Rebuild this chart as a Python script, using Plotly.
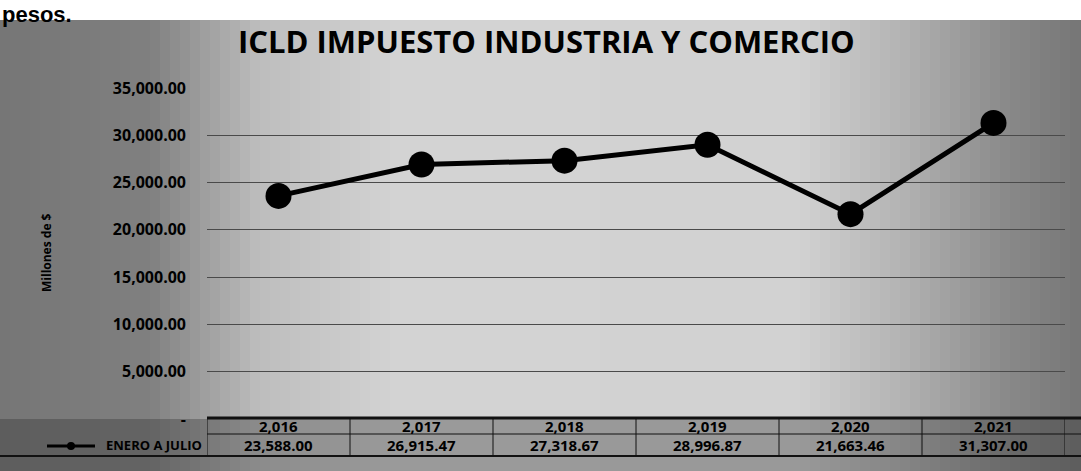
import plotly.graph_objects as go

# ---- data ----
years = ["2,016", "2,017", "2,018", "2,019", "2,020", "2,021"]
values = [23588.00, 26915.47, 27318.67, 28996.87, 21663.46, 31307.00]
value_labels = ["23,588.00", "26,915.47", "27,318.67", "28,996.87", "21,663.46", "31,307.00"]
tick_vals = [0, 5000, 10000, 15000, 20000, 25000, 30000, 35000]
tick_text = ["-", "5,000.00", "10,000.00", "15,000.00", "20,000.00", "25,000.00", "30,000.00", "35,000.00"]
series_name = "ENERO A JULIO"
title_text = "ICLD IMPUESTO INDUSTRIA Y COMERCIO"
y_title = "Millones de $"

W, H = 1081, 471
L, R, T, B = 207, 16, 88, 52
PW = W - L - R
PH = H - T - B


def px_to_xp(x):
    return (x - L) / PW


def px_to_yp(y):
    return (H - B - y) / PH


xs = list(range(len(years)))

fig = go.Figure()
fig.add_trace(go.Scatter(
    x=xs, y=values, mode="lines+markers",
    line=dict(color="black", width=5),
    marker=dict(color="black", size=26),
    name=series_name, showlegend=False,
))

shapes = []
# background grey "scan" profile as vertical strips
profile = [(0, 118), (150, 128), (260, 190), (400, 212), (800, 210), (900, 180), (1000, 140), (1081, 118)]


def grey_at(x):
    for (x0, g0), (x1, g1) in zip(profile[:-1], profile[1:]):
        if x0 <= x <= x1:
            return g0 + (g1 - g0) * (x - x0) / (x1 - x0)
    return profile[-1][1]


step = 10
for x0 in range(0, W, step):
    g = int(grey_at(x0 + step / 2))
    shapes.append(dict(type="rect", xref="paper", yref="paper",
                       x0=px_to_xp(x0), x1=px_to_xp(min(x0 + step, W)),
                       y0=px_to_yp(H), y1=px_to_yp(20),
                       fillcolor=f"rgb({g},{g},{g})", line=dict(width=0), layer="below"))
# darker band behind the table
shapes.append(dict(type="rect", xref="paper", yref="paper",
                   x0=px_to_xp(0), x1=px_to_xp(W), y0=px_to_yp(H), y1=px_to_yp(419),
                   fillcolor="rgba(50,50,50,0.35)", line=dict(width=0), layer="below"))
# white document area above the chart
shapes.append(dict(type="rect", xref="paper", yref="paper", x0=px_to_xp(0), x1=px_to_xp(W),
                   y0=px_to_yp(20), y1=px_to_yp(0), fillcolor="white", line=dict(width=0), layer="below"))

# table lines
line_col = "#111111"
shapes.append(dict(type="line", xref="paper", yref="paper", x0=px_to_xp(207), x1=px_to_xp(W),
                   y0=px_to_yp(418), y1=px_to_yp(418), line=dict(color=line_col, width=3)))
shapes.append(dict(type="line", xref="paper", yref="paper", x0=px_to_xp(207), x1=px_to_xp(W),
                   y0=px_to_yp(434), y1=px_to_yp(434), line=dict(color=line_col, width=1)))
shapes.append(dict(type="line", xref="paper", yref="paper", x0=px_to_xp(0), x1=px_to_xp(W),
                   y0=px_to_yp(456), y1=px_to_yp(456), line=dict(color=line_col, width=2)))
for i in range(len(years) + 1):
    shapes.append(dict(type="line", xref="x", yref="paper", x0=i - 0.5, x1=i - 0.5,
                       y0=px_to_yp(456), y1=px_to_yp(418), line=dict(color=line_col, width=1)))

annotations = []
for i, (yr, vl) in enumerate(zip(years, value_labels)):
    annotations.append(dict(x=i, y=px_to_yp(426), xref="x", yref="paper", text=f"<b>{yr}</b>",
                            xanchor="center", yanchor="middle",
                            showarrow=False, font=dict(size=15, color="black", family="Open Sans")))
    annotations.append(dict(x=i, y=px_to_yp(445), xref="x", yref="paper", text=f"<b>{vl}</b>",
                            xanchor="center", yanchor="middle",
                            showarrow=False, font=dict(size=15, color="black", family="Open Sans")))

# legend key in table
annotations.append(dict(x=px_to_xp(204), y=px_to_yp(445), xref="paper", yref="paper",
                        text=f"<b>{series_name}</b>", xanchor="right", yanchor="middle", showarrow=False,
                        font=dict(size=13, color="black", family="Open Sans")))
shapes.append(dict(type="line", xref="paper", yref="paper", x0=px_to_xp(47), x1=px_to_xp(95),
                   y0=px_to_yp(446), y1=px_to_yp(446), line=dict(color="black", width=3)))
shapes.append(dict(type="circle", xref="paper", yref="paper", x0=px_to_xp(67), x1=px_to_xp(75),
                   y0=px_to_yp(450), y1=px_to_yp(442), fillcolor="black", line=dict(width=0)))

# y axis title
annotations.append(dict(x=px_to_xp(46), y=px_to_yp(253), xref="paper", yref="paper",
                        text=f"<b>{y_title}</b>", textangle=-90, showarrow=False,
                        xanchor="center", yanchor="middle",
                        font=dict(size=12, color="black", family="Open Sans")))
# title
annotations.append(dict(x=px_to_xp(546), y=px_to_yp(41), xref="paper", yref="paper",
                        text=f"<b>{title_text}</b>", showarrow=False,
                        xanchor="center", yanchor="middle",
                        font=dict(size=31, color="black", family="Open Sans")))
# document text above chart
annotations.append(dict(x=px_to_xp(0), y=px_to_yp(0), xref="paper", yref="paper",
                        text="<b>pesos.</b>", showarrow=False, xanchor="left", yanchor="top",
                        font=dict(size=22, color="black", family="Liberation Sans")))

fig.update_layout(
    width=W, height=H,
    margin=dict(l=L, r=R, t=T, b=B),
    paper_bgcolor="white",
    plot_bgcolor="rgba(0,0,0,0)",
    shapes=shapes,
    annotations=annotations,
    xaxis=dict(range=[-0.5, len(years) - 0.5], showticklabels=False, showgrid=False,
               zeroline=False, showline=False, fixedrange=True),
    yaxis=dict(range=[0, 35000], tickvals=tick_vals, ticktext=[f"<b>{t}</b>" for t in tick_text],
               showgrid=True, gridcolor="#4a4a4a", gridwidth=1, zeroline=False,
               tickfont=dict(size=16, color="black", family="Open Sans"), ticks="",
               ticklabelstandoff=20, fixedrange=True),
    showlegend=False,
)

fig.write_html("out.html")
